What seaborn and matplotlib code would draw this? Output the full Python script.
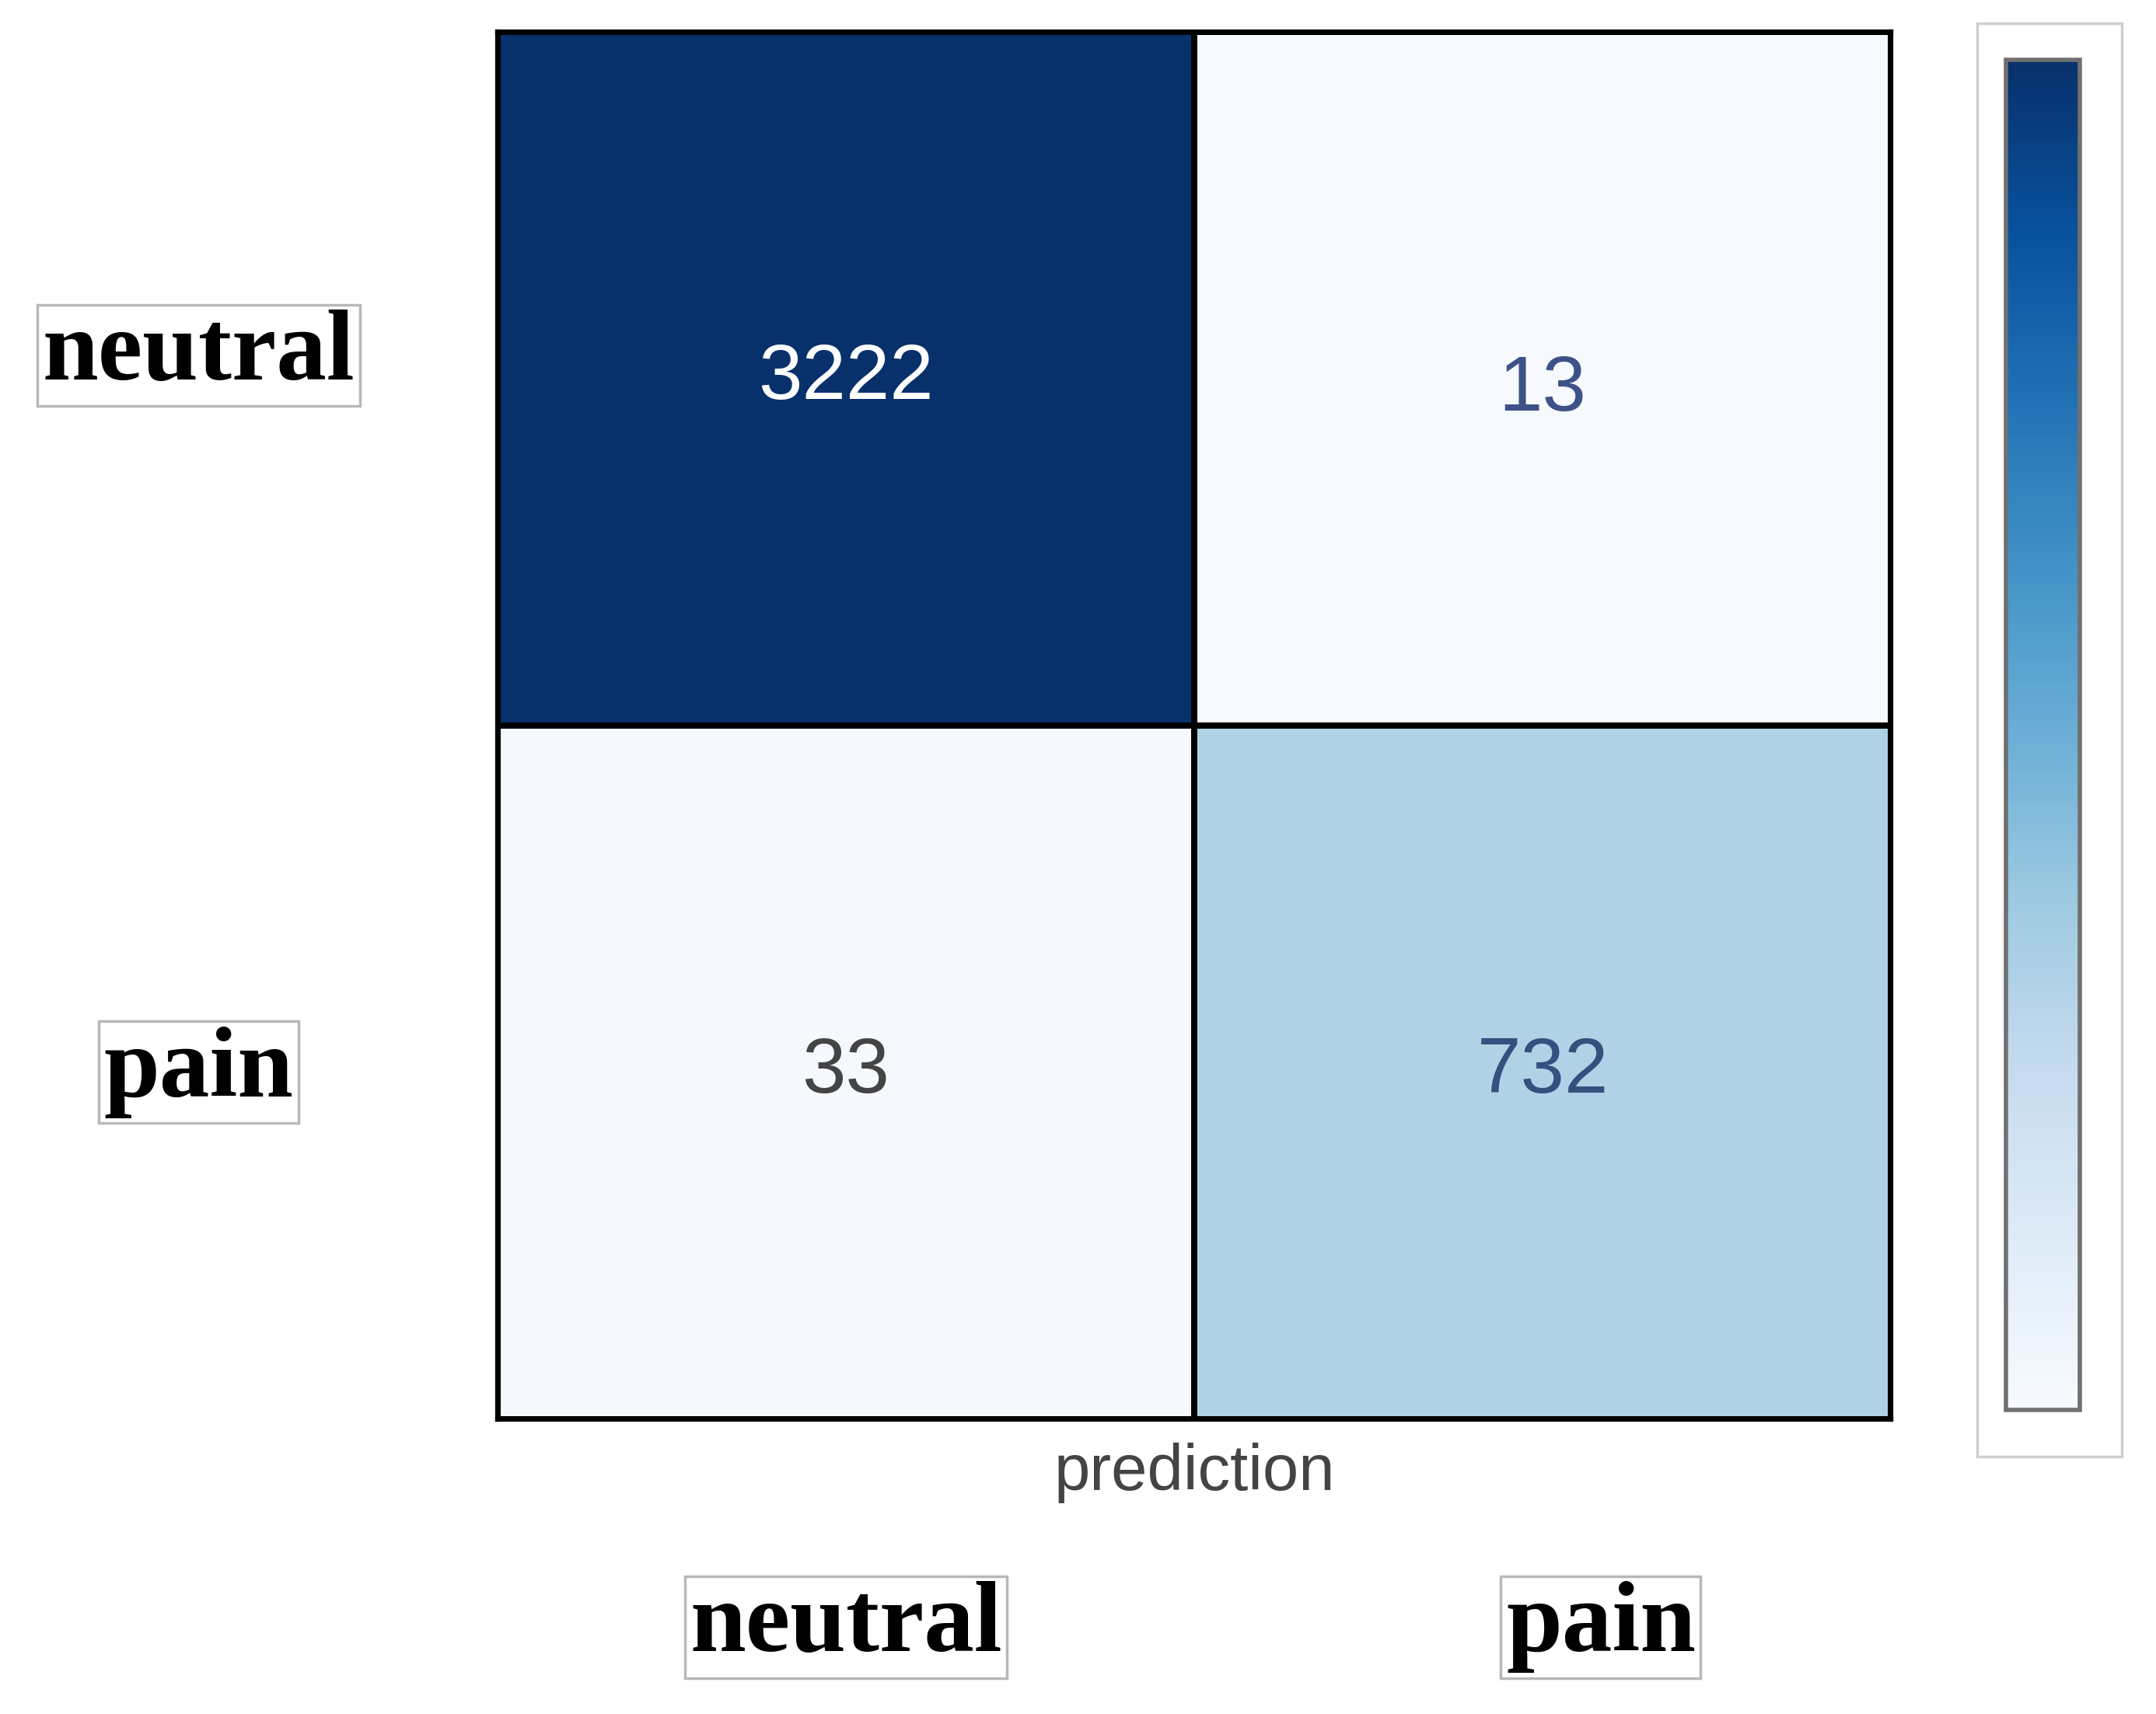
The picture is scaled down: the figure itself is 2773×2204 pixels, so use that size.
import numpy as np
import pandas as pd
import matplotlib
matplotlib.use("Agg")
import matplotlib.pyplot as plt
import matplotlib.patches as mpatches
from matplotlib.transforms import ScaledTranslation
import seaborn as sns

# ---- data ----
true_labels = ["neutral", "pain"]
pred_labels = ["neutral", "pain"]
row_neutral = [3222, 13]
row_pain = [33, 732]
annot_colors = ["white", "#3d5286", "#444444", "#34507e"]

cm = pd.DataFrame([row_neutral, row_pain], index=true_labels, columns=pred_labels)

sns.set_theme(style="white")
plt.rcParams["font.family"] = ["Liberation Sans", "DejaVu Sans"]

fig = plt.figure(figsize=(27.73, 22.04), dpi=100)
ax = fig.add_axes([0.2308, 0.1720, 0.6462, 0.8094])
cax = fig.add_axes([0.9304, 0.1774, 0.0343, 0.7877])
cax.set_zorder(5)

# outer frame around colorbar
fig.patches.append(mpatches.Rectangle((0.917, 0.1502), 0.0671, 0.8362,
                                      transform=fig.transFigure, facecolor="none",
                                      edgecolor="#cfcfcf", linewidth=2.5, zorder=-1))

sns.heatmap(cm, ax=ax, cmap="Blues", vmin=0, vmax=2300, annot=True, fmt="d",
            annot_kws={"size": 73, "family": ["Liberation Sans", "DejaVu Sans"]},
            linewidths=4.5, linecolor="black", cbar=True, cbar_ax=cax, square=False)

for t, c in zip(ax.texts, annot_colors):
    t.set_color(c)
ax.texts[1].set_transform(ax.texts[1].get_transform() +
                          ScaledTranslation(0, -0.15, fig.dpi_scale_trans))

for s in ax.spines.values():
    s.set_visible(True)
    s.set_color("black")
    s.set_linewidth(4.5)

# colorbar styling
cbar = ax.collections[0].colorbar
cbar.set_ticks([])
cbar.outline.set_visible(True)
cbar.outline.set_edgecolor("#707070")
cbar.outline.set_linewidth(4)
cax.tick_params(length=0)

label_font = dict(family=["Liberation Serif", "DejaVu Serif"], weight="bold", size=93,
                  color="black")
box = dict(boxstyle="square,pad=0.05", facecolor="white", edgecolor="#b8b8b8", linewidth=2.5)

ax.tick_params(axis="both", length=0)
ax.tick_params(axis="y", pad=277)
ax.tick_params(axis="x", pad=150)
ax.set_yticklabels(true_labels, rotation=0, **label_font)
ax.set_xticklabels(pred_labels, rotation=0, **label_font)
for t in ax.get_yticklabels():
    t.set_ha("center")
    t.set_va("center")
    t.set_bbox(box)
for t in ax.get_xticklabels():
    t.set_bbox(box)
xt = ax.get_xticklabels()
xt[1].set_transform(xt[1].get_transform() + ScaledTranslation(0.75, 0, fig.dpi_scale_trans))
yt = ax.get_yticklabels()
yt[0].set_transform(yt[0].get_transform() + ScaledTranslation(0, 0.3, fig.dpi_scale_trans))

ax.set_ylabel("")
ax.set_xlabel("prediction", fontsize=60, color="#444444",
              family=["Liberation Sans", "DejaVu Sans"])
ax.xaxis.set_label_coords(0.5, -0.0387)
ax.xaxis.label.set_va("center")

fig.savefig("out.png", dpi=100, facecolor="white")
